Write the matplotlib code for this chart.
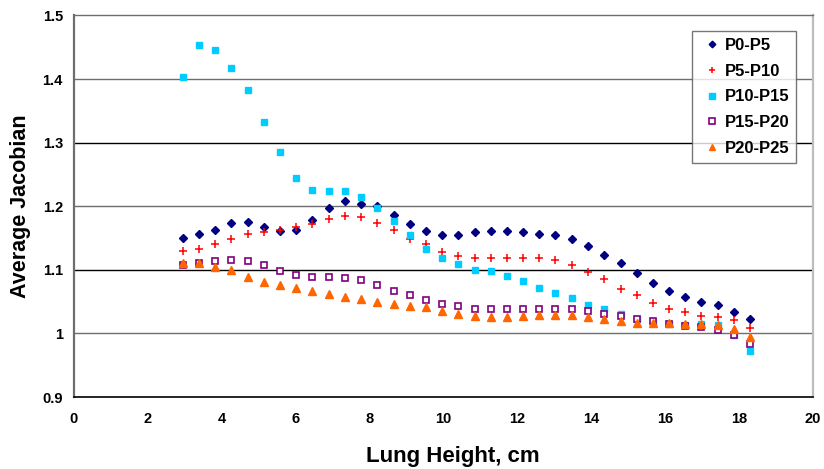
import matplotlib
matplotlib.use("Agg")
import matplotlib.pyplot as plt

plt.rcParams['font.family'] = ['Liberation Sans', 'DejaVu Sans']
plt.rcParams['font.weight'] = 'bold'

# Lung height (cm) at which each average is sampled
lung_height = [2.94, 3.38, 3.82, 4.26, 4.70, 5.13, 5.57, 6.01, 6.45, 6.89,
               7.33, 7.77, 8.21, 8.65, 9.08, 9.52, 9.96, 10.40, 10.84, 11.28,
               11.72, 12.16, 12.59, 13.03, 13.47, 13.91, 14.35, 14.79, 15.23,
               15.67, 16.11, 16.54, 16.98, 17.42, 17.86, 18.30]

series_names = ["P0-P5", "P5-P10", "P10-P15", "P15-P20", "P20-P25"]

p0_p5 = [1.150, 1.156, 1.163, 1.173, 1.176, 1.168, 1.161, 1.162, 1.178, 1.197,
         1.208, 1.204, 1.201, 1.187, 1.172, 1.161, 1.154, 1.154, 1.159, 1.161,
         1.161, 1.160, 1.157, 1.154, 1.148, 1.138, 1.124, 1.110, 1.095, 1.079,
         1.067, 1.057, 1.050, 1.044, 1.034, 1.022]

p5_p10 = [1.129, 1.133, 1.140, 1.149, 1.156, 1.160, 1.162, 1.168, 1.172, 1.180,
          1.184, 1.183, 1.174, 1.162, 1.149, 1.140, 1.128, 1.122, 1.119, 1.119,
          1.119, 1.119, 1.118, 1.116, 1.108, 1.096, 1.085, 1.070, 1.060, 1.048,
          1.038, 1.033, 1.028, 1.026, 1.021, 1.009]

p10_p15 = [1.404, 1.453, 1.445, 1.418, 1.383, 1.333, 1.286, 1.245, 1.225, 1.224,
           1.224, 1.214, 1.197, 1.177, 1.155, 1.133, 1.118, 1.109, 1.100, 1.098,
           1.090, 1.082, 1.072, 1.063, 1.055, 1.045, 1.038, 1.030, 1.023, 1.018,
           1.015, 1.013, 1.015, 1.013, 0.997, 0.972]

p15_p20 = [1.108, 1.111, 1.114, 1.116, 1.114, 1.107, 1.098, 1.092, 1.088, 1.088,
           1.087, 1.084, 1.076, 1.067, 1.060, 1.053, 1.046, 1.043, 1.039, 1.039,
           1.038, 1.038, 1.039, 1.039, 1.038, 1.035, 1.030, 1.027, 1.023, 1.019,
           1.015, 1.012, 1.010, 1.006, 0.997, 0.983]

p20_p25 = [1.111, 1.110, 1.105, 1.099, 1.088, 1.081, 1.076, 1.071, 1.066, 1.062,
           1.058, 1.054, 1.049, 1.046, 1.043, 1.041, 1.036, 1.031, 1.028, 1.026,
           1.026, 1.028, 1.029, 1.029, 1.029, 1.026, 1.023, 1.019, 1.017, 1.017,
           1.016, 1.015, 1.015, 1.014, 1.007, 0.995]

x_ticks = [0, 2, 4, 6, 8, 10, 12, 14, 16, 18, 20]
y_ticks = [0.9, 1.0, 1.1, 1.2, 1.3, 1.4, 1.5]
y_tick_labels = ["0.9", "1", "1.1", "1.2", "1.3", "1.4", "1.5"]

styles = [
    dict(marker="D", color="#000080", ms=4.2, mfc="#000080", mec="#000080"),
    dict(marker="+", color="#FF0000", ms=6, mew=1.1),
    dict(marker="s", color="#00CCFF", ms=5, mfc="#00CCFF", mec="#00CCFF"),
    dict(marker="s", color="#800080", ms=5, mfc="white", mec="#800080", mew=1.2),
    dict(marker="^", color="#FF6600", ms=5.8, mfc="#FF6600", mec="#FF6600"),
]

fig = plt.figure(figsize=(8.24, 4.69), dpi=100)
ax = fig.add_axes([0.0898, 0.1535, 0.8969, 0.8135])

# horizontal gridlines
for i, yv in enumerate(y_ticks[1:-1]):
    ax.axhline(yv, color="#000000" if i % 2 == 1 else "#6e6e6e",
               lw=1.0, zorder=1)

for name, vals, st in zip(series_names, [p0_p5, p5_p10, p10_p15, p15_p20, p20_p25], styles):
    ax.plot(lung_height, vals, linestyle="none", label=name, zorder=3, **st)

ax.set_xlim(0, 20)
ax.set_ylim(0.9, 1.5)
ax.set_xticks(x_ticks)
ax.set_yticks(y_ticks)
ax.set_yticklabels(y_tick_labels)
ax.tick_params(axis="both", length=0, labelsize=10.5)
ax.tick_params(axis="x", pad=11)
ax.tick_params(axis="y", pad=8)
for lbl in ax.get_xticklabels() + ax.get_yticklabels():
    lbl.set_fontweight("bold")

ax.spines["left"].set_color("#6e6e6e")
ax.spines["left"].set_linewidth(1.6)
ax.spines["bottom"].set_color("#000000")
ax.spines["bottom"].set_linewidth(1.2)
ax.spines["top"].set_color("#6e6e6e")
ax.spines["top"].set_linewidth(1.0)
ax.spines["right"].set_color("#bdbdbd")
ax.spines["right"].set_linewidth(1.6)

ax.set_xlabel("Lung Height, cm", fontsize=16, fontweight="bold", labelpad=14)
ax.xaxis.label.set_x(0.512)
ax.set_ylabel("Average Jacobian", fontsize=15.5, fontweight="bold", labelpad=8)

leg = ax.legend(loc="upper right", bbox_to_anchor=(0.977, 0.959),
                borderaxespad=0, frameon=True, fancybox=False,
                prop=dict(weight="bold", size=12),
                handlelength=1.6, handletextpad=-0.05, labelspacing=0.64,
                borderpad=0.42, markerscale=0.8)
leg.get_frame().set_edgecolor("#555555")
leg.get_frame().set_linewidth(1.0)

fig.savefig("out.png", dpi=100)
